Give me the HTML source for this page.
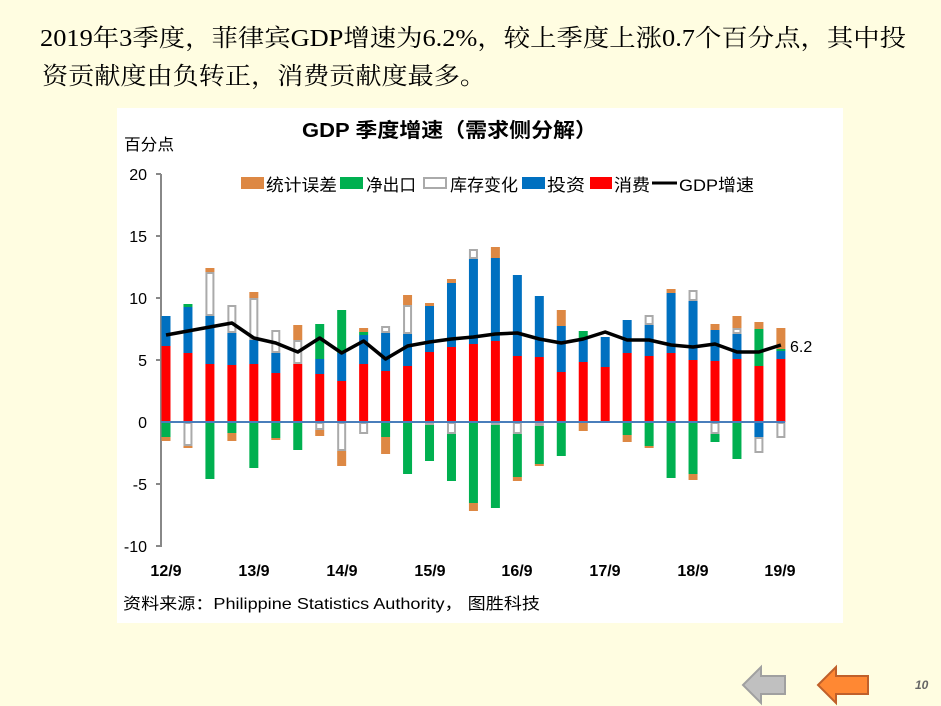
<!DOCTYPE html>
<html><head><meta charset="utf-8"><style>
html,body{margin:0;padding:0;background:#fffde1;}
svg{display:block;}
text{font-family:"Liberation Sans","Noto Sans CJK SC",sans-serif;}
.s{font-family:"Liberation Serif","Noto Serif CJK SC",serif;}
</style></head><body>
<svg width="941" height="706" viewBox="0 0 941 706" xmlns="http://www.w3.org/2000/svg">
<rect width="941" height="706" fill="#fffde1"/>
<text class="s" x="40" y="46" font-size="24" textLength="866" lengthAdjust="spacingAndGlyphs">2019年3季度，菲律宾GDP增速为6.2%，较上季度上涨0.7个百分点，其中投</text>
<text class="s" x="42" y="84" font-size="24" textLength="444" lengthAdjust="spacingAndGlyphs">资贡献度由负转正，消费贡献度最多。</text>
<rect x="117" y="108" width="726" height="515" fill="#ffffff"/>
<text x="302" y="137" font-size="20" font-weight="bold" textLength="295" lengthAdjust="spacingAndGlyphs">GDP 季度增速（需求侧分解）</text>
<text x="124" y="150" font-size="16" textLength="50" lengthAdjust="spacingAndGlyphs">百分点</text>
<g font-size="16" text-anchor="end">
<text x="147" y="180">20</text><text x="147" y="242">15</text><text x="147" y="304">10</text>
<text x="147" y="366">5</text><text x="147" y="428">0</text><text x="147" y="490">-5</text><text x="147" y="552">-10</text>
</g>
<g stroke="#888" stroke-width="2">
<line x1="161" y1="174" x2="161" y2="547"/>
<line x1="156" y1="174" x2="161" y2="174"/><line x1="156" y1="236" x2="161" y2="236"/>
<line x1="156" y1="298" x2="161" y2="298"/><line x1="156" y1="360" x2="161" y2="360"/>
<line x1="156" y1="484" x2="161" y2="484"/><line x1="156" y1="546" x2="161" y2="546"/>
</g>
<g id="bars"></g>
<line x1="161" y1="422" x2="785" y2="422" stroke="#4a7ebb" stroke-width="2"/>
<polyline id="gdp" fill="none" stroke="#000" stroke-width="3.5" stroke-linejoin="round"/>
<text x="790" y="352" font-size="16">6.2</text>
<g font-size="16" font-weight="bold" text-anchor="middle">
<text x="166" y="576">12/9</text><text x="254" y="576">13/9</text><text x="342" y="576">14/9</text><text x="430" y="576">15/9</text>
<text x="517" y="576">16/9</text><text x="605" y="576">17/9</text><text x="693" y="576">18/9</text><text x="780" y="576">19/9</text>
</g>
<text x="123" y="609" font-size="16" textLength="417" lengthAdjust="spacingAndGlyphs">资料来源：Philippine  Statistics Authority， 图胜科技</text>
<g font-size="17">
<rect x="241" y="177" width="23" height="12" fill="#dd8844"/><text x="266" y="191" textLength="71" lengthAdjust="spacingAndGlyphs">统计误差</text>
<rect x="340" y="177" width="23" height="12" fill="#00b050"/><text x="366" y="191" textLength="50" lengthAdjust="spacingAndGlyphs">净出口</text>
<rect x="424" y="178" width="22" height="10" fill="#fff" stroke="#aaa" stroke-width="2"/><text x="450" y="191" textLength="68" lengthAdjust="spacingAndGlyphs">库存变化</text>
<rect x="522" y="177" width="23" height="12" fill="#0070c0"/><text x="547" y="191" textLength="38" lengthAdjust="spacingAndGlyphs">投资</text>
<rect x="590" y="177" width="22" height="12" fill="#ff0000"/><text x="614" y="191" textLength="36" lengthAdjust="spacingAndGlyphs">消费</text>
<line x1="652" y1="183" x2="677" y2="183" stroke="#000" stroke-width="3"/><text x="679" y="191" textLength="75" lengthAdjust="spacingAndGlyphs">GDP增速</text>
</g>
<polygon points="743,685 761,667 761,676 785,676 785,694 761,694 761,703" fill="#c0c0c0" stroke="#a0a0a0" stroke-width="2"/>
<polygon points="818,685 836,667 836,676 868,676 868,694 836,694 836,703" fill="#ff8833" stroke="#c0602a" stroke-width="2"/>
<text x="915" y="689" font-size="12" font-style="italic" font-weight="bold" fill="#666">10</text>
</svg>
<script>
var C={r:"#ff0000",b:"#0070c0",g:"#00b050",o:"#dd8844",w:"#ffffff"};
var D=[
[[["r",346],["b",316]],[["g",437],["o",441]]],
[[["r",353],["b",307],["g",304]],[["w",446],["o",448]]],
[[["r",364],["b",316],["w",272],["o",268]],[["g",479]]],
[[["r",365],["b",333],["w",305]],[["g",433],["o",441]]],
[[["r",364],["b",340],["w",298],["o",292]],[["g",468]]],
[[["r",373],["b",353],["w",330]],[["g",438],["o",440]]],
[[["r",364],["w",340],["o",325]],[["g",450]]],
[[["r",374],["b",359],["g",324]],[["w",430],["o",436]]],
[[["r",381],["b",353],["g",310]],[["w",451],["o",466]]],
[[["r",364],["b",335],["g",332],["o",328]],[["w",434]]],
[[["r",371],["b",333],["w",326]],[["g",437],["o",454]]],
[[["r",366],["b",334],["w",305],["o",295]],[["g",474]]],
[[["r",352],["b",306],["o",303]],[["w",425],["g",461]]],
[[["r",347],["b",283],["o",279]],[["w",434],["g",481]]],
[[["r",344],["b",259],["w",249]],[["g",503],["o",511]]],
[[["r",341],["b",258],["o",247]],[["w",425],["g",508]]],
[[["r",356],["b",275]],[["w",434],["g",477],["o",481]]],
[[["r",357],["b",296]],[["w",426],["g",464],["o",466]]],
[[["r",372],["b",326],["o",310]],[["g",456]]],
[[["r",362],["b",339],["g",331]],[["o",431]]],
[[["r",367],["b",337]],[]],
[[["r",353],["b",320]],[["g",435],["o",442]]],
[[["r",356],["b",325],["w",315]],[["g",446],["o",448]]],
[[["r",353],["b",293],["o",289]],[["g",478]]],
[[["r",360],["b",301],["w",290]],[["g",474],["o",480]]],
[[["r",361],["b",330],["o",324]],[["w",434],["g",442]]],
[[["r",359],["b",334],["w",328],["o",316]],[["g",459]]],
[[["r",366],["g",329],["o",322]],[["b",437],["w",453]]],
[[["r",359],["b",351],["g",349],["o",328]],[["w",438]]]
];
var G=[335,331,327,323,338,343,352,338,353,341,359,346,342,339,337,334,333,339,343,339,332,340,340,345,347,344,352,352,345];
var s="",p=[];
for(var i=0;i<29;i++){var x=166+i*21.96,y=422;
D[i][0].forEach(function(q){s+=seg(q[0],x,q[1],y);y=q[1];});
y=422;D[i][1].forEach(function(q){s+=seg(q[0],x,y,q[1]);y=q[1];});
p.push(x.toFixed(1)+","+G[i]);}
function seg(t,x,a,b){var h=b-a;if(t=="w")return '<rect x="'+(x-3.5)+'" y="'+(a+1)+'" width="7" height="'+Math.max(h-2,0.5)+'" fill="#fff" stroke="#aaa" stroke-width="2"/>';
return '<rect x="'+(x-4.5)+'" y="'+a+'" width="9" height="'+h+'" fill="'+C[t]+'"/>';}
document.getElementById("bars").innerHTML=s;
document.getElementById("gdp").setAttribute("points",p.join(" "));
</script>
</body></html>
